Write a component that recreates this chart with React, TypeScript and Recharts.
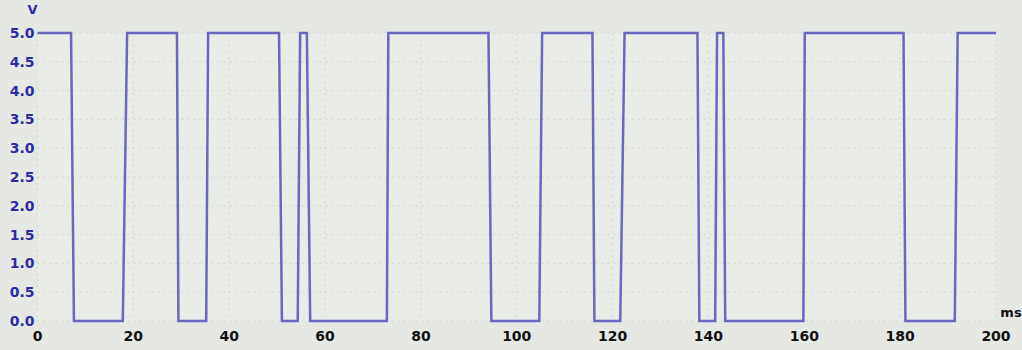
import React from "react";
import { LineChart, Line, XAxis, YAxis, CartesianGrid, Label } from "recharts";

// Time (ms) of each vertex of the logic waveform
const timeMs = [
  0, 7.0, 7.6, 17.8, 18.7, 29.1, 29.4, 35.2, 35.6, 50.4, 51.0, 54.3, 54.8,
  56.2, 56.9, 72.9, 73.2, 94.1, 94.7, 104.7, 105.3, 115.8, 116.2, 121.6, 122.5,
  137.7, 138.1, 141.4, 141.8, 143.1, 143.5, 159.8, 160.1, 180.7, 181.1, 191.4,
  192.0, 200,
];
// Voltage (V) at each vertex
const voltage = [
  5, 5, 0, 0, 5, 5, 0, 0, 5, 5, 0, 0, 5,
  5, 0, 0, 5, 5, 0, 0, 5, 5, 0, 0, 5,
  5, 0, 0, 5, 5, 0, 0, 5, 5, 0, 0,
  5, 5,
];
const xTicks = [0, 20, 40, 60, 80, 100, 120, 140, 160, 180, 200];
const yTicks = [0, 0.5, 1, 1.5, 2, 2.5, 3, 3.5, 4, 4.5, 5];

const data = timeMs.map((t, i) => ({ t, v: voltage[i] }));

const FONT = "'DejaVu Sans', sans-serif";

export default function App() {
  return (
    <div
      style={{
        position: "absolute",
        left: 0,
        top: 0,
        width: 1022,
        height: 350,
        background: "#e6e8e4",
      }}
    >
      <LineChart
        width={1022}
        height={350}
        data={data}
        margin={{ top: 33, right: 26, bottom: 0, left: 0 }}
      >
        <CartesianGrid
          stroke="#d2d5d1"
          strokeDasharray="2 4"
          fill="#eaece8"
          verticalValues={xTicks}
          horizontalValues={yTicks}
        />
        <XAxis
          dataKey="t"
          type="number"
          domain={[0, 200]}
          ticks={xTicks}
          interval={0}
          height={29}
          axisLine={false}
          tickLine={false}
          tickSize={0}
          tickMargin={10}
          tick={{ fill: "#111111", fontSize: 14, fontWeight: 700, fontFamily: FONT }}
        >
          <Label
            content={(props: any) => {
              const vb = props.viewBox || {};
              return (
                <text
                  x={(vb.x ?? 0) + (vb.width ?? 0) + 15}
                  y={(vb.y ?? 0) - 4}
                  textAnchor="middle"
                  fill="#111111"
                  fontSize={13}
                  fontWeight={700}
                  fontFamily={FONT}
                >
                  ms
                </text>
              );
            }}
          />
        </XAxis>
        <YAxis
          type="number"
          domain={[0, 5]}
          ticks={yTicks}
          interval={0}
          width={37.5}
          axisLine={false}
          tickLine={false}
          tickSize={0}
          tickMargin={3}
          tickFormatter={(v: number) => v.toFixed(1)}
          tick={{ fill: "#2b2ba3", fontSize: 14, fontWeight: 700, fontFamily: FONT }}
        >
          <Label
            content={(props: any) => {
              const vb = props.viewBox || {};
              return (
                <text
                  x={(vb.x ?? 0) + (vb.width ?? 0) - 5}
                  y={(vb.y ?? 0) - 19}
                  textAnchor="middle"
                  fill="#2b2ba3"
                  fontSize={13}
                  fontWeight={700}
                  fontFamily={FONT}
                >
                  V
                </text>
              );
            }}
          />
        </YAxis>
        <Line
          type="linear"
          dataKey="v"
          stroke="#6868c0"
          strokeWidth={2.5}
          dot={false}
          activeDot={false}
          isAnimationActive={false}
        />
      </LineChart>
    </div>
  );
}
